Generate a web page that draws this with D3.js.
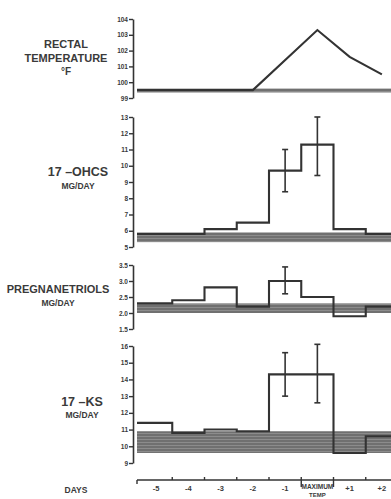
<!DOCTYPE html>
<html><head><meta charset="utf-8">
<script src="https://cdn.jsdelivr.net/npm/d3@7/dist/d3.min.js"></script>
<style>
html,body{margin:0;padding:0;background:#fff;}
svg{display:block;}
text{font-family:"Liberation Sans Narrow","Arial Narrow","Liberation Sans",sans-serif;font-weight:bold;fill:#3a3a3a;}
</style></head>
<body>
<svg id="chart" width="391" height="499"></svg>
<script>
// ---- data ----
const days = ["-5","-4","-3","-2","-1","0","+1","+2"];
const dayLabels = ["-5","-4","-3","-2","-1","MAXIMUM","+1","+2"];

const tempDays = ["-5","-4","-3","-2","0","+1","+2"];
const tempValues = [99.5,99.5,99.5,99.5,103.3,101.6,100.5];
const tempTicks = [104,103,102,101,100,99];
const tempNormal = [99.35,99.6];

const ohcsValues = [5.8,5.8,6.1,6.5,9.7,11.3,6.1,5.8];
const ohcsErrDays = ["-1","0"];
const ohcsErrLow = [8.4,9.4];
const ohcsErrHigh = [11.0,13.0];
const ohcsTicks = [13,12,11,10,9,8,7,6,5];
const ohcsNormal = [5.3,5.9];

const pregValues = [2.3,2.4,2.8,2.2,3.0,2.5,1.9,2.2];
const pregErrDays = ["-1"];
const pregErrLow = [2.6];
const pregErrHigh = [3.44];
const pregTicks = [3.5,3.0,2.5,2.0,1.5];
const pregNormal = [2.0,2.3];

const ksValues = [11.4,10.8,11.0,10.9,14.3,14.3,9.6,10.6];
const ksErrDays = ["-1","0"];
const ksErrLow = [13.0,12.6];
const ksErrHigh = [15.6,16.1];
const ksTicks = [16,15,14,13,12,11,10,9];
const ksNormal = [9.6,10.9];

// ---- drawing ----
const svg = d3.select("#chart");
const ink = "#333";
const axisX = 133;
const x = d3.scaleBand().domain(days).range([140,398]).padding(0);
const bw = x.bandwidth();
const plotLeft = 137, plotRight = 391;

const defs = svg.append("defs");
const pat = defs.append("pattern").attr("id","hatch").attr("patternUnits","userSpaceOnUse")
  .attr("width",4).attr("height",3);
pat.append("rect").attr("width",4).attr("height",3).attr("fill","#707070");
pat.append("rect").attr("y",1).attr("width",4).attr("height",1).attr("fill","#8c8c8c");

function yAxis(y, ticks, fmt){
  const g = svg.append("g").attr("transform",`translate(${axisX},0)`)
    .call(d3.axisLeft(y).tickValues(ticks).tickFormat(fmt).tickSize(4).tickSizeOuter(0));
  g.select(".domain").attr("stroke",ink).attr("stroke-width",1.6);
  g.selectAll(".tick line").attr("stroke",ink).attr("stroke-width",1.4);
  g.selectAll(".tick text").attr("x",-5).style("font-size","6.5px").style("font-family","Liberation Sans, sans-serif").attr("fill","#3a3a3a");
  return g;
}
function band(y, range){
  svg.append("rect").attr("x",plotLeft).attr("width",plotRight-plotLeft)
    .attr("y",y(range[1])).attr("height",y(range[0])-y(range[1]))
    .attr("fill","url(#hatch)");
}
function steps(y, vals){
  const pts = days.map((d,i)=>[x(d), y(vals[i])]);
  pts[0][0] = plotLeft;
  pts.push([x(days[days.length-1])+bw, y(vals[vals.length-1])]);
  svg.append("path").attr("d", d3.line().curve(d3.curveStepAfter)(pts))
    .attr("fill","none").attr("stroke",ink).attr("stroke-width",2.1);
}
function errBars(y, ds, lo, hi){
  ds.forEach((d,i)=>{
    const cx = x(d)+bw/2;
    const g = svg.append("g").attr("stroke",ink).attr("stroke-width",1.6);
    g.append("line").attr("x1",cx).attr("x2",cx).attr("y1",y(lo[i])).attr("y2",y(hi[i]));
    g.append("line").attr("x1",cx-3).attr("x2",cx+3).attr("y1",y(lo[i])).attr("y2",y(lo[i]));
    g.append("line").attr("x1",cx-3).attr("x2",cx+3).attr("y1",y(hi[i])).attr("y2",y(hi[i]));
  });
}
function label(lines, cx, y0, sizes, gap){
  let yy = y0;
  lines.forEach((t,i)=>{
    svg.append("text").attr("x",cx).attr("y",yy).attr("text-anchor","middle")
      .style("font-size",sizes[i]+"px").text(t);
    yy += gap[i] || 0;
  });
}

// Panel 1: temperature
const yT = d3.scaleLinear().domain([99,104]).range([98,19]);
yAxis(yT, tempTicks, d3.format("d"));
band(yT, tempNormal);
const tPts = tempDays.map((d,i)=>[x(d)+bw/2, yT(tempValues[i])]);
tPts[0][0] = plotLeft;
svg.append("path").attr("d", d3.line()(tPts)).attr("fill","none").attr("stroke",ink).attr("stroke-width",2.1);
label(["RECTAL","TEMPERATURE","°F"], 66, 48, [11,11,10], [14,13]);

// Panel 2: 17-OHCS
const yO = d3.scaleLinear().domain([5,13]).range([247,117]);
yAxis(yO, ohcsTicks, d3.format("d"));
band(yO, ohcsNormal);
steps(yO, ohcsValues);
errBars(yO, ohcsErrDays, ohcsErrLow, ohcsErrHigh);
label(["17 –OHCS","MG/DAY"], 78, 176, [12.5,8.5], [13]);

// Panel 3: Pregnanetriols
const yP = d3.scaleLinear().domain([1.5,3.5]).range([329,265]);
yAxis(yP, pregTicks, d3.format(".1f"));
band(yP, pregNormal);
steps(yP, pregValues);
errBars(yP, pregErrDays, pregErrLow, pregErrHigh);
label(["PREGNANETRIOLS","MG/DAY"], 58, 293, [11,8.5], [13]);

// Panel 4: 17-KS
const yK = d3.scaleLinear().domain([9,16]).range([463,346]);
yAxis(yK, ksTicks, d3.format("d"));
band(yK, ksNormal);
steps(yK, ksValues);
errBars(yK, ksErrDays, ksErrLow, ksErrHigh);
label(["17 –KS","MG/DAY"], 82, 406, [12.5,8.5], [12]);

// X axis (days)
const xAxisY = 480;
const gx = svg.append("g").attr("stroke",ink).attr("stroke-width",1.4);
gx.append("line").attr("x1",plotLeft).attr("x2",plotRight).attr("y1",xAxisY).attr("y2",xAxisY);
gx.append("line").attr("x1",plotLeft).attr("x2",plotLeft).attr("y1",xAxisY).attr("y2",xAxisY+4);
days.slice(1).forEach(d=>{
  if(d==="0"||d==="+1") return;
  gx.append("line").attr("x1",x(d)).attr("x2",x(d)).attr("y1",xAxisY).attr("y2",xAxisY-3);
});
// bracket for maximum temp
["0"].forEach(d=>{
  gx.append("line").attr("x1",x(d)).attr("x2",x(d)).attr("y1",xAxisY-3).attr("y2",xAxisY+7);
  gx.append("line").attr("x1",x(d)+bw).attr("x2",x(d)+bw).attr("y1",xAxisY-3).attr("y2",xAxisY+7);
});
days.forEach((d,i)=>{
  const cx = x(d)+bw/2;
  if(d==="0"){
    svg.append("text").attr("x",cx).attr("y",xAxisY+9).attr("text-anchor","middle").style("font-size","6.5px").text(dayLabels[i]);
    svg.append("text").attr("x",cx).attr("y",xAxisY+17).attr("text-anchor","middle").style("font-size","6px").text("TEMP");
  } else {
    svg.append("text").attr("x",cx).attr("y",xAxisY+11).attr("text-anchor","middle").style("font-size","7.5px").text(dayLabels[i]);
  }
});
svg.append("text").attr("x",76).attr("y",xAxisY+13).attr("text-anchor","middle").style("font-size","8.5px").text("DAYS");
</script>
</body></html>
